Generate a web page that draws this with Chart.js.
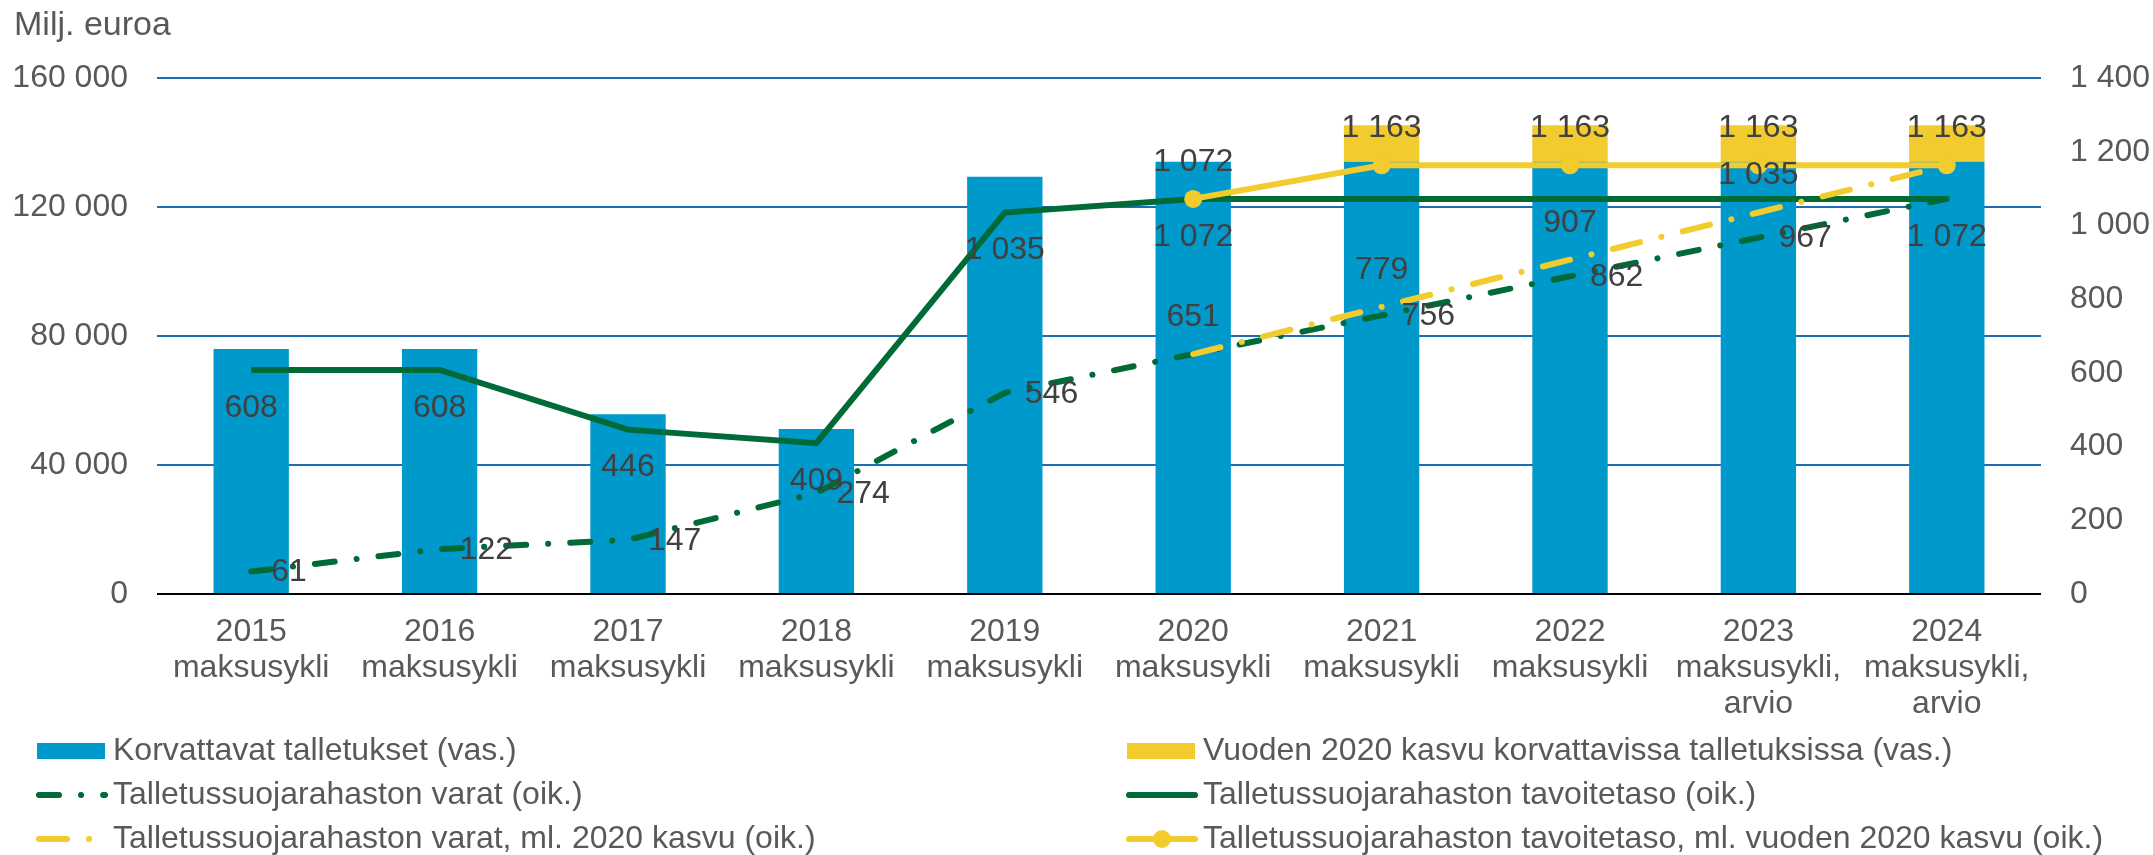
<!DOCTYPE html>
<html>
<head>
<meta charset="utf-8">
<script src="https://cdn.jsdelivr.net/npm/chart.js@4.4.1/dist/chart.umd.min.js"></script>
<style>
  html, body { margin: 0; padding: 0; background: #fff; }
  #wrap { width: 2153px; height: 855px; }
</style>
</head>
<body>
<div id="wrap"><canvas id="chart" width="2153" height="855"></canvas></div>
<script>
// categories
const labels = [
  ['2015', 'maksusykli'], ['2016', 'maksusykli'], ['2017', 'maksusykli'],
  ['2018', 'maksusykli'], ['2019', 'maksusykli'], ['2020', 'maksusykli'],
  ['2021', 'maksusykli'], ['2022', 'maksusykli'],
  ['2023', 'maksusykli,', 'arvio'], ['2024', 'maksusykli,', 'arvio']
];

// left axis, milj. euroa
const deposits = [76000, 76000, 55750, 51125, 129375, 134000, 134000, 134000, 134000, 134000];
const depositGrowth2020 = [null, null, null, null, null, null, 11375, 11375, 11375, 11375];

// right axis, milj. euroa
const fundAssets = [61, 122, 147, 274, 546, 651, 756, 862, 967, 1072];
const fundTarget = [608, 608, 446, 409, 1035, 1072, 1072, 1072, 1072, 1072];
const fundAssetsInclGrowth = [null, null, null, null, null, 651, 779, 907, 1035, 1163];
const fundTargetInclGrowth = [null, null, null, null, null, 1072, 1163, 1163, 1163, 1163];

const BLUE = '#0099cc';
const YELLOW = '#f2cb2e';
const GREEN = '#006b37';
const GRID = '#1c6db3';
const TEXT = '#595959';
const LABEL = '#404040';
const FONT = '"Liberation Sans", Arial, sans-serif';

Chart.defaults.font.family = FONT;
Chart.defaults.font.size = 32;
Chart.defaults.color = TEXT;

function fmt(v) {
  return String(v).replace(/\B(?=(\d{3})+(?!\d))/g, ' ');
}

// point labels like the original (above / below / right of the point)
const pointLabels = {
  id: 'pointLabels',
  afterDatasetsDraw(chart) {
    const ctx = chart.ctx;
    ctx.save();
    ctx.font = '32px ' + FONT;
    ctx.fillStyle = LABEL;
    chart.data.datasets.forEach((ds, i) => {
      if (!ds.dl) return;
      const meta = chart.getDatasetMeta(i);
      ds.dl.show.forEach(idx => {
        const el = meta.data[idx];
        const txt = fmt(ds.data[idx]);
        if (ds.dl.pos === 'right') {
          ctx.textAlign = 'left';
          ctx.textBaseline = 'middle';
          ctx.fillText(txt, el.x + 20, el.y + 1);
        } else {
          ctx.textAlign = 'center';
          ctx.textBaseline = 'middle';
          ctx.fillText(txt, el.x, el.y + (ds.dl.pos === 'above' ? -37 : 38));
        }
      });
    });
    ctx.restore();
  }
};

// two-column legend and the unit text
const customLegend = {
  id: 'customLegend',
  afterDraw(chart) {
    const ctx = chart.ctx;
    ctx.save();
    ctx.fillStyle = TEXT;
    ctx.textAlign = 'left';
    ctx.textBaseline = 'middle';
    ctx.font = '34px ' + FONT;
    ctx.fillText('Milj. euroa', 14, 26);

    ctx.font = '32px ' + FONT;
    const cols = [37, 1127];
    const rows = [751, 795, 839];
    const slots = [[0, 0], [1, 0], [0, 1], [1, 1], [0, 2], [1, 2]];
    chart.data.datasets.forEach((ds, i) => {
      const x = cols[slots[i][0]];
      const y = rows[slots[i][1]];
      if (ds.type === 'bar') {
        ctx.fillStyle = ds.backgroundColor;
        ctx.fillRect(x, y - 8, 68, 16);
      } else {
        ctx.strokeStyle = ds.borderColor;
        ctx.lineWidth = ds.borderWidth;
        ctx.lineCap = 'round';
        ctx.setLineDash(ds.borderDash || []);
        ctx.beginPath();
        ctx.moveTo(x + 2, y);
        ctx.lineTo(x + 68, y);
        ctx.stroke();
        ctx.setLineDash([]);
        if (ds.pointRadius) {
          ctx.fillStyle = ds.pointBackgroundColor;
          ctx.beginPath();
          ctx.arc(x + 35, y, ds.pointRadius, 0, Math.PI * 2);
          ctx.fill();
        }
      }
      ctx.fillStyle = TEXT;
      ctx.fillText(ds.label, x + 76, y);
    });
    ctx.restore();
  }
};

const config = {
  data: {
    labels: labels,
    datasets: [
      {
        type: 'bar',
        label: 'Korvattavat talletukset (vas.)',
        data: deposits,
        backgroundColor: BLUE,
        yAxisID: 'y',
        order: 9,
        barPercentage: 0.4,
        categoryPercentage: 1
      },
      {
        type: 'bar',
        label: 'Vuoden 2020 kasvu korvattavissa talletuksissa (vas.)',
        data: depositGrowth2020,
        backgroundColor: YELLOW,
        yAxisID: 'y',
        order: 10,
        barPercentage: 0.4,
        categoryPercentage: 1
      },
      {
        type: 'line',
        label: 'Talletussuojarahaston varat (oik.)',
        data: fundAssets,
        borderColor: GREEN,
        borderWidth: 6,
        borderDash: [20, 22, 0.1, 22],
        borderCapStyle: 'round',
        pointRadius: 0,
        yAxisID: 'y1',
        order: 4,
        dl: { pos: 'right', show: [0, 1, 2, 3, 4, 6, 7, 8] }
      },
      {
        type: 'line',
        label: 'Talletussuojarahaston tavoitetaso (oik.)',
        data: fundTarget,
        borderColor: GREEN,
        borderWidth: 6,
        pointRadius: 0,
        yAxisID: 'y1',
        order: 3,
        dl: { pos: 'below', show: [0, 1, 2, 3, 4, 5, 9] }
      },
      {
        type: 'line',
        label: 'Talletussuojarahaston varat, ml. 2020 kasvu (oik.)',
        data: fundAssetsInclGrowth,
        borderColor: YELLOW,
        borderWidth: 6,
        borderDash: [28, 22, 0.1, 22],
        borderCapStyle: 'round',
        pointRadius: 0,
        yAxisID: 'y1',
        order: 2,
        dl: { pos: 'above', show: [5, 6, 7, 8] }
      },
      {
        type: 'line',
        label: 'Talletussuojarahaston tavoitetaso, ml. vuoden 2020 kasvu (oik.)',
        data: fundTargetInclGrowth,
        borderColor: YELLOW,
        borderWidth: 6,
        pointRadius: 9,
        pointBackgroundColor: YELLOW,
        pointBorderWidth: 0,
        yAxisID: 'y1',
        order: 1,
        dl: { pos: 'above', show: [5, 6, 7, 8, 9] }
      }
    ]
  },
  options: {
    responsive: false,
    animation: false,
    events: [],
    devicePixelRatio: 1,
    layout: { padding: { top: 78, bottom: 131, left: 0, right: 0 } },
    plugins: {
      legend: { display: false },
      tooltip: { enabled: false }
    },
    scales: {
      x: {
        stacked: true,
        grid: { display: false, drawTicks: false },
        border: { display: false },
        ticks: {
          color: TEXT,
          padding: 20,
          maxRotation: 0,
          autoSkip: false,
          font: { size: 32, lineHeight: 1.13 }
        },
        afterFit(scale) { scale.height = 130; }
      },
      y: {
        position: 'left',
        stacked: true,
        min: 0,
        max: 160000,
        grid: {
          drawTicks: false,
          lineWidth: 2,
          color: ctx => ctx.tick.value === 0 ? '#000000' : GRID
        },
        border: { display: false },
        ticks: {
          stepSize: 40000,
          padding: 29,
          color: TEXT,
          callback: v => fmt(v)
        },
        afterFit(scale) { scale.width = 157; }
      },
      y1: {
        position: 'right',
        min: 0,
        max: 1400,
        grid: { display: false, drawTicks: false },
        border: { display: false },
        ticks: {
          stepSize: 200,
          padding: 29,
          color: TEXT,
          callback: v => fmt(v)
        },
        afterFit(scale) { scale.width = 112; }
      }
    }
  },
  plugins: [pointLabels, customLegend]
};

var myChart = new Chart(document.getElementById('chart'), config);
</script>
</body>
</html>
